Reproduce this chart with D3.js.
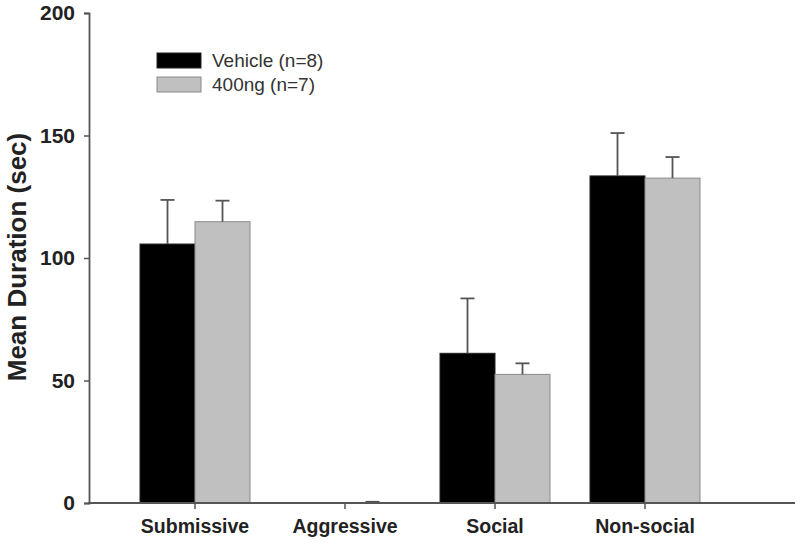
<!DOCTYPE html>
<html><head><meta charset="utf-8">
<script src="https://cdn.jsdelivr.net/npm/d3@7"></script>
<style>body{margin:0;background:#fff}svg{display:block;font-family:"Liberation Sans",Arial,sans-serif}</style>
</head><body><svg id="c" width="800" height="549"></svg>
<script>
const categories = ["Submissive", "Aggressive", "Social", "Non-social"];
const seriesNames = ["Vehicle (n=8)", "400ng (n=7)"];
const vehicleMean = [105.7, 0, 61.1, 133.5];
const vehicleErr = [18.0, 0, 22.4, 17.5];
const ngMean = [114.8, 0, 52.5, 132.6];
const ngErr = [8.6, 0.5, 4.5, 8.6];
const yTicks = [0, 50, 100, 150, 200];

const svg = d3.select("#c");
const FONT = "'Liberation Sans',Arial,sans-serif";
const y = d3.scaleLinear().domain([0, 200]).range([503, 13]);
const x = d3.scaleBand().domain(categories).range([120, 720]).paddingInner(0).paddingOuter(0);
const sub = d3.scaleBand().domain([0, 1]).range([0, 110]);
const off = (x.bandwidth() - 110) / 2;
const fills = ["#000000", "#c0c0c0"];
const strokes = ["#222", "#8a8a8a"];
const series = [
  {means: vehicleMean, errs: vehicleErr},
  {means: ngMean, errs: ngErr}
];

// bars
series.forEach((s, i) => {
  const g = svg.append("g");
  g.selectAll("rect").data(categories.filter((d, j) => s.means[j] > 0)).join("rect")
    .attr("x", d => x(d) + off + sub(i))
    .attr("y", d => y(s.means[categories.indexOf(d)]))
    .attr("width", sub.bandwidth())
    .attr("height", d => y(0) - y(s.means[categories.indexOf(d)]))
    .attr("fill", fills[i]).attr("stroke", strokes[i]).attr("stroke-width", 1);
  // error bars
  const eg = svg.append("g").attr("stroke", "#555").attr("stroke-width", 1.8);
  categories.forEach((d, j) => {
    if (s.errs[j] <= 0) return;
    const cx = x(d) + off + sub(i) + sub.bandwidth() / 2;
    eg.append("line").attr("x1", cx).attr("x2", cx)
      .attr("y1", y(s.means[j])).attr("y2", y(s.means[j] + s.errs[j]));
    eg.append("line").attr("x1", cx - 7).attr("x2", cx + 7)
      .attr("y1", y(s.means[j] + s.errs[j])).attr("y2", y(s.means[j] + s.errs[j]));
  });
});

// y axis
const ya = svg.append("g").attr("transform", "translate(89,0)")
  .call(d3.axisLeft(y).tickValues(yTicks).tickSize(5).tickPadding(9));
ya.select(".domain").attr("stroke", "#555").attr("stroke-width", 1.8);
ya.selectAll(".tick line").attr("stroke", "#555").attr("stroke-width", 1.5);
ya.selectAll("text").attr("font-size", 21).attr("font-weight", "bold").attr("fill", "#222")
  .attr("font-family", FONT);

// x axis
const xa = svg.append("g").attr("transform", "translate(0,503)")
  .call(d3.axisBottom(x).tickSize(6).tickPadding(10));
xa.select(".domain").remove();
svg.append("line").attr("x1", 88).attr("x2", 795).attr("y1", 503).attr("y2", 503)
  .attr("stroke", "#555").attr("stroke-width", 1.8);
xa.selectAll(".tick line").attr("stroke", "#555").attr("stroke-width", 1.5);
xa.selectAll("text").attr("font-size", 19.5).attr("font-weight", "bold").attr("fill", "#222")
  .attr("font-family", FONT);

// y label
svg.append("text").attr("transform", "translate(26,257) rotate(-90)")
  .attr("text-anchor", "middle").attr("font-size", 26).attr("font-weight", "bold").attr("fill", "#222")
  .attr("font-family", FONT)
  .text("Mean Duration (sec)");

// legend
const lg = svg.append("g").attr("transform", "translate(157,53)");
seriesNames.forEach((n, i) => {
  lg.append("rect").attr("x", 0).attr("y", i * 24).attr("width", 44).attr("height", 15)
    .attr("fill", fills[i]).attr("stroke", strokes[i]).attr("stroke-width", 1);
  lg.append("text").attr("x", 55).attr("y", i * 24 + 14).attr("font-size", 19).attr("fill", "#333")
    .attr("font-family", FONT)
    .text(n);
});
</script></body></html>
